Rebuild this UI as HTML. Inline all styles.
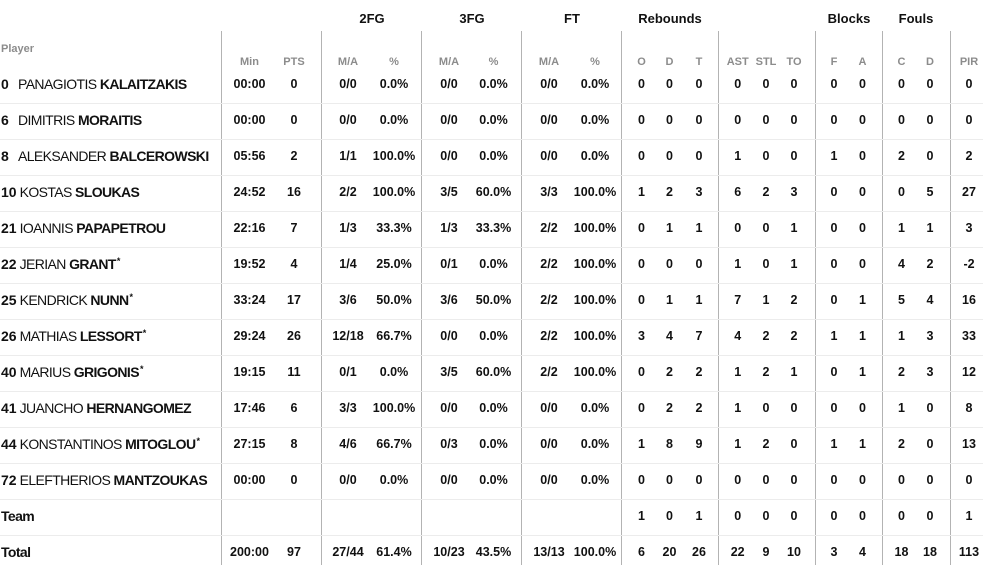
<!DOCTYPE html>
<html>
<head>
<meta charset="utf-8">
<style>
*{margin:0;padding:0;box-sizing:border-box}
html,body{width:983px;height:565px;overflow:hidden;background:#fff}
body{position:relative;font-family:"Liberation Sans",Arial,sans-serif;color:#111}
.vl{position:absolute;top:31px;width:1px;height:534px;background:#b3b3b3}
.hl{position:absolute;left:0;width:983px;height:1px;background:#ececec}
.gh{position:absolute;top:10px;height:18px;line-height:18px;width:100px;margin-left:-50px;text-align:center;font-weight:bold;font-size:13px;color:#111}
.sh{position:absolute;top:54px;height:16px;line-height:16px;width:60px;margin-left:-30px;text-align:center;font-weight:bold;font-size:11px;color:#8c8c8c}
.row{position:absolute;left:0;width:983px;height:36px}
.row span{position:absolute;top:0;line-height:36px;width:60px;margin-left:-30px;text-align:center;font-weight:bold;font-size:12.5px}
.row .nm{left:1px;margin-left:0;width:220px;text-align:left;font-weight:normal;font-size:14px;letter-spacing:-0.6px;white-space:nowrap}
.nm b{font-weight:bold}
.nm i{font-style:normal;font-weight:bold;display:inline-block;min-width:14px;margin-right:3px;letter-spacing:0}
.nm em{font-style:normal;font-size:9px;font-weight:bold;position:relative;top:-5px;line-height:0;margin-left:1px}
.a{left:249.5px}.b{left:294px}.c{left:348px}.d{left:394px}.e{left:449px}.f{left:493.5px}.g{left:549px}.h{left:595px}
.i{left:641.5px}.j{left:669.5px}.k{left:699px}.l{left:737.7px}.m{left:766px}.n{left:794px}.o{left:834px}.p{left:862.5px}
.q{left:901.5px}.r{left:930px}.s{left:969px}
</style>
</head>
<body>
<div class="vl" style="left:221px"></div>
<div class="vl" style="left:321px"></div>
<div class="vl" style="left:421px"></div>
<div class="vl" style="left:521px"></div>
<div class="vl" style="left:621px"></div>
<div class="vl" style="left:718px"></div>
<div class="vl" style="left:815px"></div>
<div class="vl" style="left:882px"></div>
<div class="vl" style="left:950px"></div>
<div class="hl" style="top:103px"></div>
<div class="hl" style="top:139px"></div>
<div class="hl" style="top:175px"></div>
<div class="hl" style="top:211px"></div>
<div class="hl" style="top:247px"></div>
<div class="hl" style="top:283px"></div>
<div class="hl" style="top:319px"></div>
<div class="hl" style="top:355px"></div>
<div class="hl" style="top:391px"></div>
<div class="hl" style="top:427px"></div>
<div class="hl" style="top:463px"></div>
<div class="hl" style="top:499px"></div>
<div class="hl" style="top:535px"></div>

<div class="gh" style="left:372px">2FG</div>
<div class="gh" style="left:472px">3FG</div>
<div class="gh" style="left:572px">FT</div>
<div class="gh" style="left:670px">Rebounds</div>
<div class="gh" style="left:849px">Blocks</div>
<div class="gh" style="left:916px">Fouls</div>

<div class="sh" style="left:1px;margin-left:0;text-align:left;top:41px">Player</div>
<div class="sh a">Min</div><div class="sh b">PTS</div>
<div class="sh c">M/A</div><div class="sh d">%</div>
<div class="sh e">M/A</div><div class="sh f">%</div>
<div class="sh g">M/A</div><div class="sh h">%</div>
<div class="sh i">O</div><div class="sh j">D</div><div class="sh k">T</div>
<div class="sh l">AST</div><div class="sh m">STL</div><div class="sh n">TO</div>
<div class="sh o">F</div><div class="sh p">A</div>
<div class="sh q">C</div><div class="sh r">D</div>
<div class="sh s">PIR</div>

<div class="row" style="top:66px">
<span class="nm"><i>0</i>PANAGIOTIS <b>KALAITZAKIS</b></span>
<span class="a">00:00</span><span class="b">0</span><span class="c">0/0</span><span class="d">0.0%</span><span class="e">0/0</span><span class="f">0.0%</span><span class="g">0/0</span><span class="h">0.0%</span><span class="i">0</span><span class="j">0</span><span class="k">0</span><span class="l">0</span><span class="m">0</span><span class="n">0</span><span class="o">0</span><span class="p">0</span><span class="q">0</span><span class="r">0</span><span class="s">0</span>
</div>
<div class="row" style="top:102px">
<span class="nm"><i>6</i>DIMITRIS <b>MORAITIS</b></span>
<span class="a">00:00</span><span class="b">0</span><span class="c">0/0</span><span class="d">0.0%</span><span class="e">0/0</span><span class="f">0.0%</span><span class="g">0/0</span><span class="h">0.0%</span><span class="i">0</span><span class="j">0</span><span class="k">0</span><span class="l">0</span><span class="m">0</span><span class="n">0</span><span class="o">0</span><span class="p">0</span><span class="q">0</span><span class="r">0</span><span class="s">0</span>
</div>
<div class="row" style="top:138px">
<span class="nm"><i>8</i>ALEKSANDER <b>BALCEROWSKI</b></span>
<span class="a">05:56</span><span class="b">2</span><span class="c">1/1</span><span class="d">100.0%</span><span class="e">0/0</span><span class="f">0.0%</span><span class="g">0/0</span><span class="h">0.0%</span><span class="i">0</span><span class="j">0</span><span class="k">0</span><span class="l">1</span><span class="m">0</span><span class="n">0</span><span class="o">1</span><span class="p">0</span><span class="q">2</span><span class="r">0</span><span class="s">2</span>
</div>
<div class="row" style="top:174px">
<span class="nm"><i>10</i>KOSTAS <b>SLOUKAS</b></span>
<span class="a">24:52</span><span class="b">16</span><span class="c">2/2</span><span class="d">100.0%</span><span class="e">3/5</span><span class="f">60.0%</span><span class="g">3/3</span><span class="h">100.0%</span><span class="i">1</span><span class="j">2</span><span class="k">3</span><span class="l">6</span><span class="m">2</span><span class="n">3</span><span class="o">0</span><span class="p">0</span><span class="q">0</span><span class="r">5</span><span class="s">27</span>
</div>
<div class="row" style="top:210px">
<span class="nm"><i>21</i>IOANNIS <b>PAPAPETROU</b></span>
<span class="a">22:16</span><span class="b">7</span><span class="c">1/3</span><span class="d">33.3%</span><span class="e">1/3</span><span class="f">33.3%</span><span class="g">2/2</span><span class="h">100.0%</span><span class="i">0</span><span class="j">1</span><span class="k">1</span><span class="l">0</span><span class="m">0</span><span class="n">1</span><span class="o">0</span><span class="p">0</span><span class="q">1</span><span class="r">1</span><span class="s">3</span>
</div>
<div class="row" style="top:246px">
<span class="nm"><i>22</i>JERIAN <b>GRANT</b><em>*</em></span>
<span class="a">19:52</span><span class="b">4</span><span class="c">1/4</span><span class="d">25.0%</span><span class="e">0/1</span><span class="f">0.0%</span><span class="g">2/2</span><span class="h">100.0%</span><span class="i">0</span><span class="j">0</span><span class="k">0</span><span class="l">1</span><span class="m">0</span><span class="n">1</span><span class="o">0</span><span class="p">0</span><span class="q">4</span><span class="r">2</span><span class="s">-2</span>
</div>
<div class="row" style="top:282px">
<span class="nm"><i>25</i>KENDRICK <b>NUNN</b><em>*</em></span>
<span class="a">33:24</span><span class="b">17</span><span class="c">3/6</span><span class="d">50.0%</span><span class="e">3/6</span><span class="f">50.0%</span><span class="g">2/2</span><span class="h">100.0%</span><span class="i">0</span><span class="j">1</span><span class="k">1</span><span class="l">7</span><span class="m">1</span><span class="n">2</span><span class="o">0</span><span class="p">1</span><span class="q">5</span><span class="r">4</span><span class="s">16</span>
</div>
<div class="row" style="top:318px">
<span class="nm"><i>26</i>MATHIAS <b>LESSORT</b><em>*</em></span>
<span class="a">29:24</span><span class="b">26</span><span class="c">12/18</span><span class="d">66.7%</span><span class="e">0/0</span><span class="f">0.0%</span><span class="g">2/2</span><span class="h">100.0%</span><span class="i">3</span><span class="j">4</span><span class="k">7</span><span class="l">4</span><span class="m">2</span><span class="n">2</span><span class="o">1</span><span class="p">1</span><span class="q">1</span><span class="r">3</span><span class="s">33</span>
</div>
<div class="row" style="top:354px">
<span class="nm"><i>40</i>MARIUS <b>GRIGONIS</b><em>*</em></span>
<span class="a">19:15</span><span class="b">11</span><span class="c">0/1</span><span class="d">0.0%</span><span class="e">3/5</span><span class="f">60.0%</span><span class="g">2/2</span><span class="h">100.0%</span><span class="i">0</span><span class="j">2</span><span class="k">2</span><span class="l">1</span><span class="m">2</span><span class="n">1</span><span class="o">0</span><span class="p">1</span><span class="q">2</span><span class="r">3</span><span class="s">12</span>
</div>
<div class="row" style="top:390px">
<span class="nm"><i>41</i>JUANCHO <b>HERNANGOMEZ</b></span>
<span class="a">17:46</span><span class="b">6</span><span class="c">3/3</span><span class="d">100.0%</span><span class="e">0/0</span><span class="f">0.0%</span><span class="g">0/0</span><span class="h">0.0%</span><span class="i">0</span><span class="j">2</span><span class="k">2</span><span class="l">1</span><span class="m">0</span><span class="n">0</span><span class="o">0</span><span class="p">0</span><span class="q">1</span><span class="r">0</span><span class="s">8</span>
</div>
<div class="row" style="top:426px">
<span class="nm"><i>44</i>KONSTANTINOS <b>MITOGLOU</b><em>*</em></span>
<span class="a">27:15</span><span class="b">8</span><span class="c">4/6</span><span class="d">66.7%</span><span class="e">0/3</span><span class="f">0.0%</span><span class="g">0/0</span><span class="h">0.0%</span><span class="i">1</span><span class="j">8</span><span class="k">9</span><span class="l">1</span><span class="m">2</span><span class="n">0</span><span class="o">1</span><span class="p">1</span><span class="q">2</span><span class="r">0</span><span class="s">13</span>
</div>
<div class="row" style="top:462px">
<span class="nm"><i>72</i>ELEFTHERIOS <b>MANTZOUKAS</b></span>
<span class="a">00:00</span><span class="b">0</span><span class="c">0/0</span><span class="d">0.0%</span><span class="e">0/0</span><span class="f">0.0%</span><span class="g">0/0</span><span class="h">0.0%</span><span class="i">0</span><span class="j">0</span><span class="k">0</span><span class="l">0</span><span class="m">0</span><span class="n">0</span><span class="o">0</span><span class="p">0</span><span class="q">0</span><span class="r">0</span><span class="s">0</span>
</div>
<div class="row" style="top:498px">
<span class="nm"><b>Team</b></span>
<span class="i">1</span><span class="j">0</span><span class="k">1</span><span class="l">0</span><span class="m">0</span><span class="n">0</span><span class="o">0</span><span class="p">0</span><span class="q">0</span><span class="r">0</span><span class="s">1</span>
</div>
<div class="row" style="top:534px">
<span class="nm"><b>Total</b></span>
<span class="a">200:00</span><span class="b">97</span><span class="c">27/44</span><span class="d">61.4%</span><span class="e">10/23</span><span class="f">43.5%</span><span class="g">13/13</span><span class="h">100.0%</span><span class="i">6</span><span class="j">20</span><span class="k">26</span><span class="l">22</span><span class="m">9</span><span class="n">10</span><span class="o">3</span><span class="p">4</span><span class="q">18</span><span class="r">18</span><span class="s">113</span>
</div>
</body>
</html>
